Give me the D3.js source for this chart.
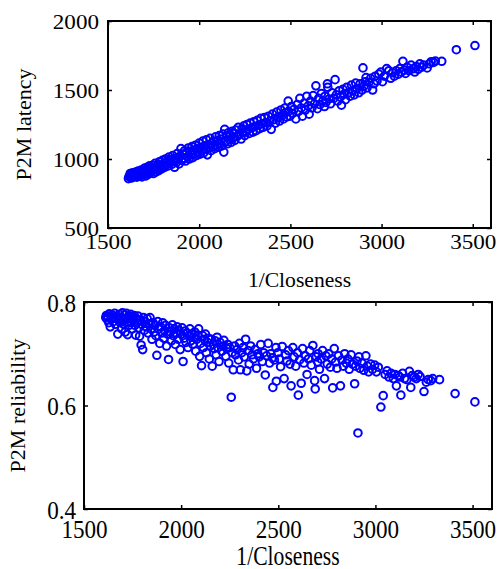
<!DOCTYPE html>
<html>
<head>
<meta charset="utf-8">
<script src="https://cdn.jsdelivr.net/npm/d3@7"></script>
<style>
  body { margin: 0; background: #fff; }
  svg text { font-family: "Liberation Serif", "Times New Roman", "DejaVu Serif", serif !important; fill: #000; }
</style>
</head>
<body>
<script>
// 1/Closeness of each node (shared by both panels)
var closeness = [
  1612,1615,1620,1622,1628,1630,1635,1640,1645,1650,1652,1658,1662,1665,1670,1674,1678,1682,1686,1690,
  1694,1698,1702,1705,1708,1712,1715,1718,1722,1725,1728,1732,1735,1740,1744,1748,1752,1755,1758,1762,
  1766,1770,1774,1778,1782,1786,1790,1794,1798,1802,1806,1810,1815,1820,1825,1830,1835,1840,1845,1850,
  1855,1860,1865,1870,1875,1880,1885,1890,1895,1900,1905,1910,1915,1920,1925,1930,1935,1940,1945,1950,
  1955,1960,1965,1970,1975,1980,1985,1990,1995,2000,2005,2010,2015,2020,2025,2030,2035,2040,2045,2050,
  2055,2060,2065,2070,2075,2080,2085,2090,2095,2100,2105,2110,2115,2120,2125,2130,2135,2140,2145,2150,
  2155,2160,2165,2170,2175,2180,2185,2190,2195,2200,2210,2215,2220,2230,2235,2240,2245,2250,2258,2262,
  2268,2275,2280,2288,2295,2300,2305,2312,2318,2325,2332,2338,2345,2350,2358,2365,2372,2380,2388,2395,
  2402,2410,2418,2425,2433,2440,2448,2455,2462,2470,2472,2480,2488,2490,2498,2505,2512,2520,2530,2538,
  2545,2552,2560,2566,2575,2582,2590,2598,2603,2610,2618,2625,2632,2640,2648,2655,2662,2670,2678,2687,
  2690,2695,2703,2705,2712,2720,2728,2738,2745,2752,2760,2768,2775,2780,2788,2795,2802,2810,2820,2828,
  2835,2842,2850,2858,2865,2875,2882,2893,2898,2905,2910,2915,2920,2930,2940,2951,2958,2965,2975,2985,
  2996,3005,3015,3028,3040,3050,3060,3070,3080,3092,3100,3108,3117,3125,3131,3140,3150,3162,3175,3182,
  3190,3200,3210,3220,3230,3250,3262,3272,3285,3295,3330,3410,3512
];

// P2M latency (top panel)
var latency = [
  858,872,880,895,862,885,900,870,892,878,905,868,888,912,875,896,882,920,870,900,
  915,888,935,895,878,925,905,942,890,918,950,902,930,912,955,895,935,920,968,905,
  945,925,960,915,980,935,952,928,990,945,968,940,1000,958,985,950,1015,970,995,962,
  1025,985,940,1005,975,1040,998,965,1020,1075,990,1035,1005,1060,985,1045,1015,1080,1000,1055,
  1030,1090,1010,1065,1040,1100,1025,1075,1050,1115,1035,1085,1060,1130,1045,1095,1070,1140,1030,1105,
  1080,1150,1060,1115,1090,1125,1075,1160,1100,1135,1085,1170,1110,1145,1095,1180,1050,1215,1125,1165,
  1110,1190,1140,1175,1120,1200,1150,1185,1135,1210,1165,1230,1180,1145,1220,1190,1240,1170,1200,1250,
  1215,1185,1260,1225,1195,1270,1235,1205,1280,1245,1220,1295,1255,1230,1300,1265,1240,1310,1275,1215,
  1325,1285,1260,1340,1300,1275,1355,1315,1290,1370,1335,1305,1420,1345,1310,1380,1330,1360,1290,1395,
  1345,1440,1370,1310,1405,1355,1455,1385,1325,1420,1370,1460,1400,1530,1365,1440,1395,1475,1420,1380,
  1455,1410,1545,1520,1435,1400,1480,1440,1575,1465,1420,1495,1450,1390,1505,1470,1430,1520,1480,1455,
  1535,1495,1465,1550,1510,1480,1545,1500,1660,1530,1560,1590,1515,1555,1585,1500,1545,1600,1565,1615,
  1630,1560,1600,1655,1640,1585,1625,1600,1640,1615,1655,1630,1708,1645,1620,1665,1640,1680,1655,1630,
  1670,1650,1690,1665,1680,1660,1690,1705,1700,1710,1708,1792,1822
];

// P2M reliability (bottom panel)
var reliability = [
  0.770,0.774,0.766,0.772,0.760,0.777,0.752,0.768,0.775,0.762,0.770,0.778,0.757,0.768,0.772,0.738,0.765,0.776,0.760,0.770,
  0.748,0.779,0.766,0.757,0.775,0.742,0.768,0.778,0.762,0.737,0.772,0.755,0.768,0.776,0.760,0.748,0.770,0.765,0.774,0.755,
  0.736,0.768,0.760,0.773,0.750,0.734,0.765,0.717,0.757,0.708,0.770,0.745,0.762,0.752,0.768,0.740,0.758,0.770,0.748,0.728,
  0.760,0.742,0.755,0.735,0.697,0.762,0.748,0.720,0.752,0.740,0.760,0.730,0.745,0.755,0.715,0.738,0.689,0.750,0.742,0.725,
  0.756,0.735,0.748,0.718,0.740,0.752,0.728,0.745,0.708,0.738,0.750,0.685,0.730,0.744,0.722,0.740,0.712,0.735,0.748,0.725,
  0.738,0.718,0.732,0.742,0.705,0.728,0.736,0.748,0.695,0.720,0.677,0.735,0.712,0.728,0.738,0.702,0.722,0.730,0.690,0.715,
  0.728,0.676,0.718,0.710,0.725,0.698,0.732,0.712,0.685,0.722,0.705,0.715,0.726,0.695,0.710,0.718,0.682,0.712,0.616,0.702,
  0.669,0.715,0.698,0.708,0.688,0.720,0.669,0.702,0.712,0.694,0.728,0.667,0.706,0.680,0.715,0.698,0.690,0.708,0.672,0.700,
  0.694,0.718,0.685,0.702,0.659,0.696,0.720,0.682,0.700,0.692,0.635,0.688,0.712,0.647,0.702,0.690,0.675,0.714,0.652,0.698,
  0.686,0.706,0.680,0.638,0.712,0.694,0.676,0.702,0.620,0.688,0.643,0.710,0.682,0.696,0.660,0.690,0.706,0.678,0.716,0.648,
  0.632,0.694,0.684,0.700,0.670,0.690,0.706,0.652,0.696,0.680,0.700,0.674,0.690,0.634,0.710,0.684,0.672,0.696,0.638,0.688,
  0.676,0.700,0.682,0.690,0.670,0.698,0.680,0.642,0.676,0.686,0.547,0.694,0.672,0.682,0.668,0.696,0.676,0.665,0.680,0.670,
  0.678,0.665,0.674,0.597,0.619,0.660,0.667,0.655,0.662,0.652,0.660,0.638,0.658,0.655,0.620,0.662,0.652,0.650,0.666,0.635,
  0.658,0.655,0.652,0.660,0.656,0.627,0.645,0.650,0.648,0.652,0.650,0.623,0.607
];

var points = closeness.map(function (c, i) {
  return { c: c, lat: latency[i], rel: reliability[i] };
});

var xTicks = [1500, 2000, 2500, 3000, 3500];
var latTicks = [500, 1000, 1500, 2000];
var relTicks = [0.4, 0.6, 0.8];

var svg = d3.select("body").append("svg")
  .attr("width", 497)
  .attr("height", 569);

// one scatter panel with a boxed frame and inward ticks
function panel(opt) {
  var x = d3.scaleLinear().domain([1500, 3600]).range([opt.left, opt.right]);
  var y = d3.scaleLinear().domain(opt.yDomain).range([opt.bottom, opt.top]);
  var g = svg.append("g");

  // bottom axis with labels
  var bx = g.append("g")
    .attr("transform", "translate(0," + opt.bottom + ")")
    .call(d3.axisBottom(x).tickValues(xTicks).tickFormat(d3.format("d")).tickSizeInner(-4).tickSizeOuter(0));
  bx.selectAll("text")
    .attr("y", null).attr("dy", null)
    .attr("transform", "translate(0," + opt.xLabDy + ") scale(1.1," + opt.sy + ")");

  // left axis with labels
  var ly = g.append("g")
    .attr("transform", "translate(" + opt.left + ",0)")
    .call(d3.axisLeft(y).tickValues(opt.yTicks).tickFormat(opt.fmt).tickSizeInner(-4).tickSizeOuter(0));
  ly.selectAll("text")
    .attr("x", null).attr("dy", null)
    .attr("transform", "translate(" + opt.yLabDx + "," + opt.yLabDy + ") scale(1.1," + opt.sy + ")");

  // mirrored ticks on top and right
  g.append("g")
    .attr("transform", "translate(0," + opt.top + ")")
    .call(d3.axisTop(x).tickValues(xTicks).tickFormat("").tickSizeInner(-4).tickSizeOuter(0));
  g.append("g")
    .attr("transform", "translate(" + opt.right + ",0)")
    .call(d3.axisRight(y).tickValues(opt.yTicks).tickFormat("").tickSizeInner(-4).tickSizeOuter(0));

  g.selectAll(".domain").remove();
  g.selectAll("g").attr("font-family", null).attr("font-size", null);
  g.selectAll(".tick line").attr("stroke", "#000").attr("stroke-width", 1.5);
  g.selectAll(".tick text")
    .attr("font-size", 21)
    .attr("fill", "#000");

  // frame
  g.append("rect")
    .attr("x", opt.left).attr("y", opt.top)
    .attr("width", opt.right - opt.left)
    .attr("height", opt.bottom - opt.top)
    .attr("fill", "none")
    .attr("stroke", "#000")
    .attr("stroke-width", 2);

  // markers
  g.append("g").selectAll("circle")
    .data(points)
    .enter()
    .append("circle")
    .attr("cx", function (d) { return x(d.c); })
    .attr("cy", function (d) { return y(d[opt.key]); })
    .attr("r", 3.8)
    .attr("fill", "none")
    .attr("stroke", "#0000ff")
    .attr("stroke-width", 2);

  // axis titles
  g.append("text")
    .attr("transform", "translate(" + ((opt.left + opt.right) / 2) + "," + opt.xTitleY + ") scale(1.03," + opt.sy + ")")
    .attr("text-anchor", "middle")
    .attr("font-size", 21)
    .text("1/Closeness");
  g.append("text")
    .attr("transform", "translate(" + opt.yTitleX + "," + ((opt.top + opt.bottom) / 2) + ") rotate(-90)")
    .attr("text-anchor", "middle")
    .attr("font-size", 22)
    .text(opt.yTitle);
}

panel({
  left: 108, right: 491, top: 21, bottom: 228,
  yDomain: [500, 2000], yTicks: latTicks, fmt: d3.format("d"),
  key: "lat", sy: 1,
  xLabDy: 21, yLabDx: -9, yLabDy: 7,
  xTitleY: 287, yTitleX: 31, yTitle: "P2M latency"
});

panel({
  left: 84, right: 492, top: 302, bottom: 509,
  yDomain: [0.4, 0.8], yTicks: relTicks, fmt: d3.format(".1f"),
  key: "rel", sy: 1.25,
  xLabDy: 29, yLabDx: -8, yLabDy: 9,
  xTitleY: 565, yTitleX: 25, yTitle: "P2M reliability"
});
</script>
</body>
</html>
